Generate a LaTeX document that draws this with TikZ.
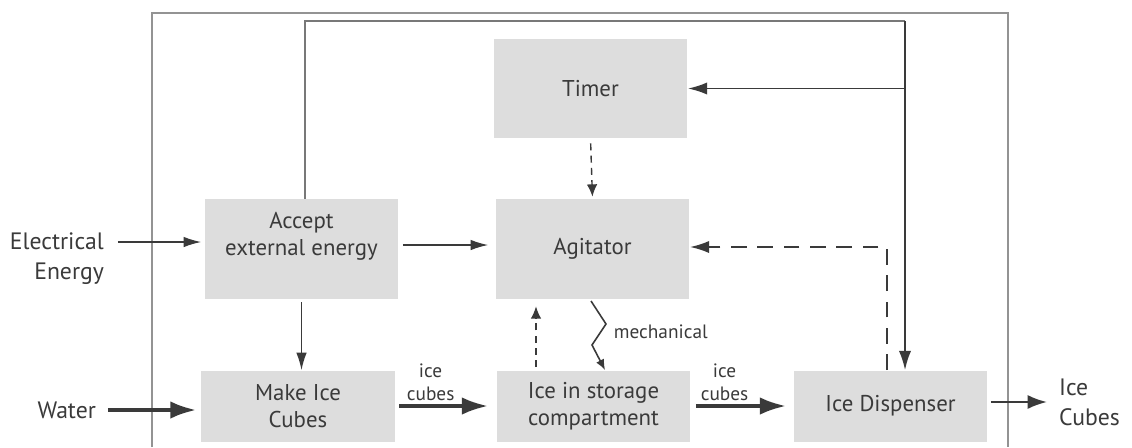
\documentclass[tikz,border=0pt]{standalone}
\usepackage{fontspec}
\setmainfont{PT Sans}
\usetikzlibrary{arrows.meta}

\definecolor{boxgray}{RGB}{221,221,221}
\definecolor{inkgray}{RGB}{58,58,58}
\definecolor{loopgray}{RGB}{120,120,120}

\begin{document}
\begin{tikzpicture}[x=0.02cm,y=-0.02cm]
    \tikzset{block/.style = {rectangle,fill=boxgray,text=inkgray,align=center,
        minimum width=3.88cm,inner sep=0pt,font=\fontsize{13}{15.5}\selectfont}}
    \tikzset{label/.style = {text=inkgray,inner sep=1pt,font=\fontsize{13.5}{17}\selectfont}}
    \tikzset{small/.style = {text=inkgray,inner sep=2pt,align=center,font=\fontsize{11}{13}\selectfont}}
    \tikzset{flow/.style = {-{Latex[length=10pt,width=6pt]},draw=inkgray,line width=0.8pt}}
    \tikzset{heavy/.style = {-{Latex[length=15pt,width=10pt]},draw=inkgray,line width=2.2pt}}
    \useasboundingbox (0,0) rectangle (1132,447);
    % frame
    \draw[loopgray!80,line width=0.8pt] (152,447) |- (1008,13) -- (1008,447);
    % blocks
    \node[block,minimum height=2cm] (accept) at (301.5,249) {};
    \node[block,fill=none,minimum width=0pt] (acctext) at (301.5,236) {Accept\\external energy};
    \node[block,minimum height=1.98cm] (timer) at (590.5,88.5) {Timer};
    \node[block,minimum height=2cm] (agit) at (592.5,249) {Agitator};
    \node[block,minimum height=1.42cm] (make) at (298,406) {Make Ice\\Cubes};
    \node[block,minimum height=1.42cm] (store) at (593.5,406) {Ice in storage\\compartment};
    \node[block,minimum height=1.42cm] (disp) at (890.5,406) {Ice Dispenser};
    % outside labels
    \node[label,anchor=east,align=right] (elec) at (106,259) {Electrical\\Energy};
    \node[label,anchor=east] (water) at (98,410) {Water};
    \node[label,anchor=west,align=left] (out) at (1057,402) {Ice\\Cubes};
    % helper points
    \coordinate (ein) at (0,242);
    \coordinate (aout) at (0,245);
    \coordinate (loop) at (905,21);
    \coordinate (back) at (887,247);
    \coordinate (up) at (536,0);
    \coordinate (m1) at (591,301);
    \coordinate (m2) at (606,324);
    \coordinate (m3) at (592,345);
    \coordinate (m4) at (605,370);
    % edges
    \draw[flow,shorten <=0.24cm,shorten >=0.06cm] (elec.east |- ein) -- (accept.west |- ein);
    \draw[flow,shorten <=0.08cm,shorten >=0.14cm] (accept.east |- aout) -- (agit.west |- aout);
    \draw[flow,shorten <=0.06cm] (accept.south) -- (accept.south |- make.north);
    \draw[heavy,line width=2.5pt,shorten <=0.2cm,shorten >=0.08cm] (water.east) -- (make.west |- water.east);
    \draw[heavy,shorten <=0.08cm,shorten >=0.16cm] (make) -- node[small,above,pos=0.35] {ice\\cubes} (store);
    \draw[heavy,shorten <=0.1cm,shorten >=0.14cm] (store) -- node[small,above,pos=0.33] {ice\\cubes} (disp);
    \draw[flow,line width=1.3pt,-{Latex[length=11pt,width=8pt]},shorten <=0.06cm,shorten >=0.2cm]
        (disp.east |- out.west) -- (out.west);
    \draw[loopgray,line width=1.6pt] (accept.north -| 305,0) |- (loop);
    \draw[flow,line width=1.1pt,-{Latex[length=11pt,width=7pt]}] (loop) -- (disp.north -| loop);
    \draw[flow,line width=1.1pt,-{Latex[length=11pt,width=7pt]}] (loop |- timer.east) -- (timer.east);
    \draw[flow,dash pattern=on 4pt off 3pt,-{Latex[length=7pt,width=6pt]},shorten <=0.1cm,shorten >=0.04cm]
        (timer.south) -- (agit.north);
    \draw[flow,dash pattern=on 4pt off 3pt,-{Latex[length=7pt,width=6pt]},shorten <=0.06cm,shorten >=0.14cm]
        (store.north -| up) -- (agit.south -| up);
    \draw[flow,line width=1.2pt,dash pattern=on 9pt off 6pt,-{Latex[length=11pt,width=7pt]}]
        (disp.north -| back) |- (agit.east |- back);
    \draw[flow,line width=0.9pt,-{Latex[length=6pt,width=5pt]}] (m1) -- (m2) -- (m3) -- (m4);
    \node[small,anchor=west] (mech) at (610,332) {mechanical};
\end{tikzpicture}
\end{document}
